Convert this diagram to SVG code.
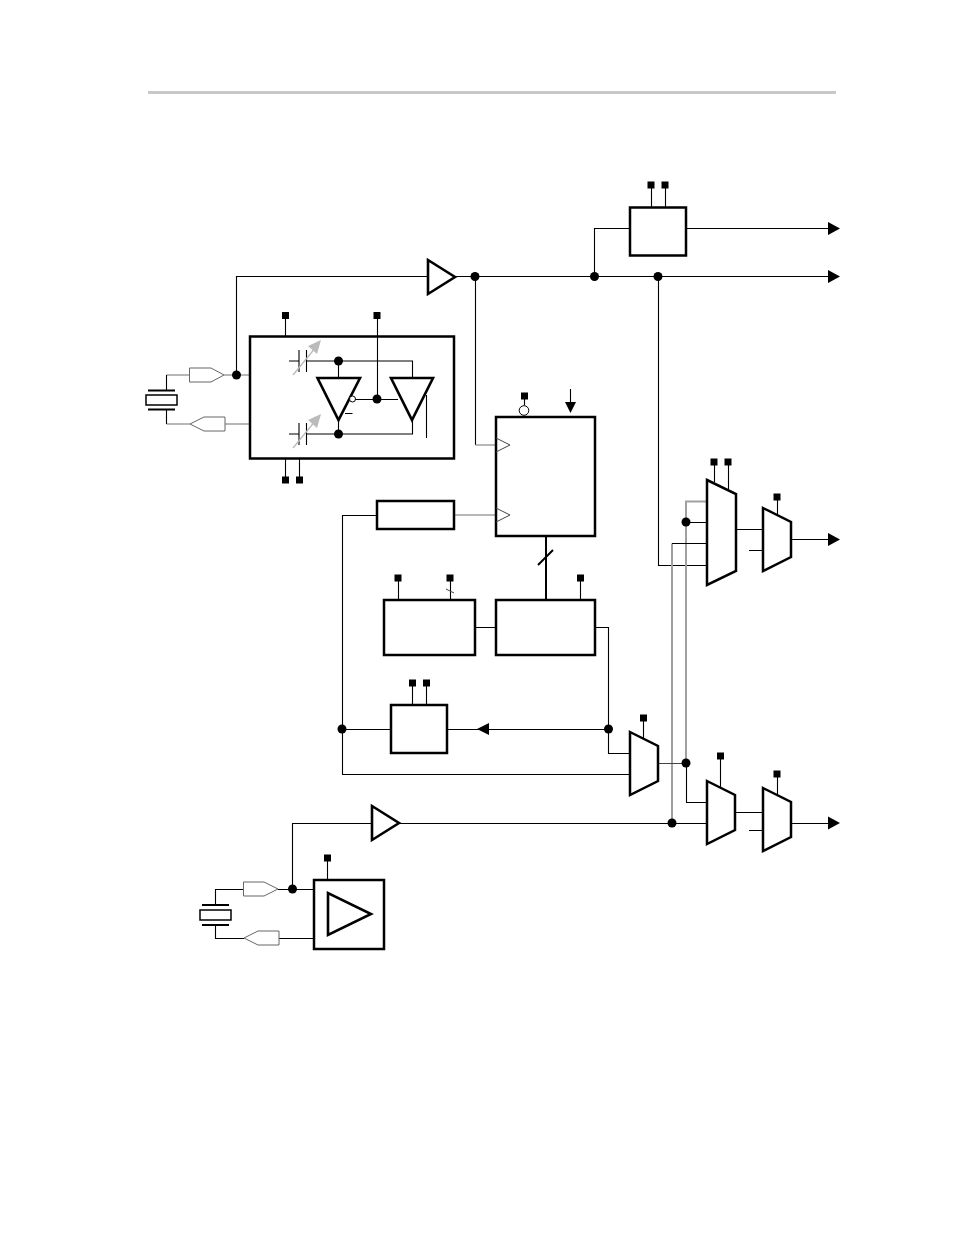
<svg xmlns="http://www.w3.org/2000/svg" width="954" height="1235" viewBox="0 0 954 1235">
<style>
.w{fill:none;stroke:#000;stroke-width:1.100}
.g{fill:none;stroke:#a0a0a0;stroke-width:1.600}
.g2{fill:none;stroke:#a0a0a0;stroke-width:2}
.h{fill:none;stroke:#444;stroke-width:1}
.b{fill:#fff;stroke:#000;stroke-width:2.500}
.t{fill:#fff;stroke:#000;stroke-width:2.600}
.p{fill:#fff;stroke:#666;stroke-width:1}
.k{fill:#000}
</style>
<defs>
<rect id="pin" x="-3.500" y="-3.500" width="7" height="7" fill="#000"/>
<circle id="dot" r="4.500" fill="#000"/>
<path id="arrow" d="M-4-6.500L8 0L-4 6.500Z" fill="#000"/>
</defs>
<rect width="954" height="1235" fill="#fff"/>
<path d="M148 92.500H836" fill="none" stroke="#c8c8c8" stroke-width="3"/>
<g id="connectors">
<path class="w" d="M236.500 375V276.500H428M455 276.500H832M594.500 276.500V228.500H630M686 228.500H832M475.500 276.500V445"/>
<path class="g" d="M475.500 445H497M454 515H497"/>
<path class="w" d="M658.500 276.500V565.500H707M377 515.500H342.500V774.500H630M342.500 729.500H391M447 729.500H608.500M595 627.500H608.500V753.500H630M475 627.500H496"/>
<path d="M546 536V600M538 565L553 550" fill="none" stroke="#000" stroke-width="2"/>
<use href="#arrow" transform="translate(832 228.500)"/>
<use href="#arrow" transform="translate(832 276.500)"/>
<use href="#arrow" transform="translate(832 539.500)"/>
<use href="#arrow" transform="translate(832 823)"/>
<path class="k" d="M477 729L489 723V735Z"/>
<path class="g2" d="M707 501.500H686V763M672 543.500V823"/>
<path class="h" d="M658 763.500H686"/>
<path class="w" d="M686 522.500H707M672 543.500H707M686.500 763V802.500H707M399 823.500H707M735 812.500H763M736 529.500H763M749 550.500H763M749 830.500H763M791 539.500H832M791 823.500H832"/>
<path class="w" d="M292.500 889V823.500H372M278 889.500H314M279 938.500H314M243 889.500H215.500V905M215.500 925V938.500H244"/>
<path class="g" d="M190 375H166.500M224 375H250M225 424H250M190 424H166.500"/>
<path class="w" d="M166.500 375V390M166.500 410V424"/>
<path class="w" d="M285.500 315V336M651.500 185V207M665.500 185V207M524.500 396V405M570.500 389V403M398.500 578V600M450.500 578V600M580.500 578V600M412.500 683V705M426.500 683V705M643.500 718V739M714.500 462V482M728.500 462V489M777.500 497V515M720.500 756V788M777.500 774V795M327.500 858V880M285.500 459V480M299.500 459V480"/>
<path class="h" d="M446 589L454 593"/>
<use href="#dot" x="236.500" y="375"/>
<use href="#dot" x="475" y="276.500"/>
<use href="#dot" x="594.500" y="276.500"/>
<use href="#dot" x="658" y="276.500"/>
<use href="#dot" x="342" y="729"/>
<use href="#dot" x="608.500" y="729"/>
<use href="#dot" x="686" y="522"/>
<use href="#dot" x="686" y="763"/>
<use href="#dot" x="672" y="823"/>
<use href="#dot" x="292.500" y="889"/>
</g>
<g id="pins">
<use href="#pin" x="285.500" y="315.500"/><use href="#pin" x="377" y="315.500"/>
<use href="#pin" x="285.500" y="480"/><use href="#pin" x="299.500" y="480"/>
<use href="#pin" x="651" y="185"/><use href="#pin" x="665" y="185"/>
<use href="#pin" x="524.500" y="396"/>
<use href="#pin" x="398" y="578"/><use href="#pin" x="450" y="578"/><use href="#pin" x="580.500" y="578"/>
<use href="#pin" x="412.500" y="683"/><use href="#pin" x="426.500" y="683"/>
<use href="#pin" x="643.500" y="718"/><use href="#pin" x="714" y="462"/><use href="#pin" x="728" y="462"/>
<use href="#pin" x="777" y="497"/><use href="#pin" x="720.500" y="756"/><use href="#pin" x="777" y="774"/>
<use href="#pin" x="327.500" y="858"/>
</g>
<g id="crystal1">
<path d="M148 390.500H175M148 409.500H175" stroke="#000" stroke-width="2" fill="none"/>
<rect x="146" y="395" width="31" height="10" fill="#fff" stroke="#000" stroke-width="1.500"/>
<path class="p" d="M189.500 368H211L224 375L211 382H189.500Z"/>
<path class="p" d="M190 424L204 417H225V431H204Z"/>
</g>
<g id="oscillator">
<rect class="b" x="250" y="336.500" width="204" height="122"/>
<path class="w" d="M289 361H299M307 361H412.500V378M338.500 361V378M289 434H299M307 434H412.500V420M338.500 434V420M299 350V372M306.500 350V372M299 423V445M306.500 423V445"/>
<path d="M293 375L316 347M293 448L316 420" fill="none" stroke="#bbb" stroke-width="1.300"/>
<path d="M321 340L317 354L308 346ZM321 414L317 428L308 420Z" fill="#bbb"/>
<path class="t" d="M317.500 378H360L338.500 420Z"/>
<path class="t" d="M391 378H433L412 420Z"/>
<path class="w" d="M355 399.500H398M377.500 315V399M345 413.500H352.500M426.500 395V438"/>
<circle cx="352.500" cy="399" r="3" fill="#fff" stroke="#000"/>
<use href="#dot" x="338.500" y="361"/>
<use href="#dot" x="338.500" y="434"/>
<use href="#dot" x="377" y="399"/>
</g>
<g id="buffer1"><path class="t" d="M428 260V294L455 277Z"/></g>
<g id="divider-top"><rect class="b" x="630" y="207.500" width="56" height="48"/></g>
<g id="pll">
<rect class="b" x="496" y="417" width="99" height="119"/>
<path class="h" d="M496 438L510 445L496 452M496 508L510 515L496 522"/>
<circle cx="524" cy="410.500" r="4.800" fill="#fff" stroke="#000"/>
<path class="k" d="M565 402H576L570.500 413Z"/>
</g>
<g id="refdiv"><rect class="b" x="377" y="501" width="77" height="28"/></g>
<g id="box-left"><rect class="b" x="384" y="600" width="91" height="55"/></g>
<g id="box-right"><rect class="b" x="496" y="600" width="99" height="55"/></g>
<g id="box-lower"><rect class="b" x="391" y="705" width="56" height="48"/></g>
<g id="mux-low"><path class="b" d="M630 732L658 746V781L630 795Z"/></g>
<g id="mux-tall"><path class="b" d="M707 480L736 494V571L707 585Z"/></g>
<g id="mux-out1"><path class="b" d="M763 508L791 522V557L763 571Z"/></g>
<g id="mux-bot"><path class="b" d="M707 781L735 795V830L707 844Z"/></g>
<g id="mux-out2"><path class="b" d="M763 788L791 802V837L763 851Z"/></g>
<g id="buffer2"><path class="t" d="M372 806V840L399 823Z"/></g>
<g id="crystal2">
<path d="M202 905H229M202 925H229" stroke="#000" stroke-width="2" fill="none"/>
<rect x="200" y="910" width="31" height="10" fill="#fff" stroke="#000" stroke-width="1.500"/>
<path class="p" d="M243.500 882H264L278 889L264 896H243.500Z"/>
<path class="p" d="M244 938L258 931H279V945H258Z"/>
</g>
<g id="osc2">
<rect class="b" x="314" y="880" width="70" height="69"/>
<path class="t" d="M328 893V935L371 914Z"/>
</g>
</svg>
